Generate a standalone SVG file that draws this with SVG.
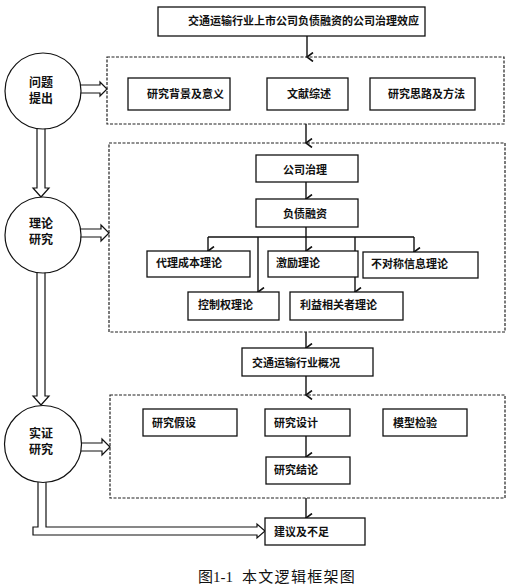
<svg xmlns="http://www.w3.org/2000/svg" width="514" height="585" viewBox="0 0 514 585">
<style>
.box{fill:#fff;stroke:#111;stroke-width:1.3}
.dash{fill:none;stroke:#222;stroke-width:1.2;stroke-dasharray:3,1.5}
.circ{fill:#fff;stroke:#111;stroke-width:1.2}
.t{font-family:"Noto Sans CJK SC","Liberation Sans",sans-serif;font-size:11px;font-weight:bold;fill:#111}
.ct{font-family:"Noto Sans CJK SC","Liberation Sans",sans-serif;font-size:12px;font-weight:bold;fill:#111;text-anchor:middle}
.ln{fill:none;stroke:#111;stroke-width:1.4}
.hol{fill:#fff;stroke:#111;stroke-width:1.2;stroke-linejoin:miter}
.cap{font-family:"Liberation Serif","Noto Sans CJK SC",serif;font-size:15px;fill:#111}
</style>
<defs>
<marker id="ah" viewBox="0 0 10 10" refX="5" refY="9" markerWidth="10" markerHeight="10" markerUnits="userSpaceOnUse" orient="auto-start-reverse">
<path d="M0.5,3 L5,9 L9.5,3" fill="none" stroke="#111" stroke-width="1.6"/>
</marker>
</defs>

<g id="connectors">
<line class="ln" x1="307" y1="36" x2="307" y2="57" marker-end="url(#ah)"/>
<line class="ln" x1="306" y1="124" x2="306" y2="143" marker-end="url(#ah)"/>
<line class="ln" x1="306" y1="182" x2="306" y2="199" marker-end="url(#ah)"/>
<line class="ln" x1="306" y1="227" x2="306" y2="237"/>
<line class="ln" x1="208" y1="237" x2="414" y2="237"/>
<line class="ln" x1="208" y1="237" x2="208" y2="251" marker-end="url(#ah)"/>
<line class="ln" x1="306" y1="237" x2="306" y2="251" marker-end="url(#ah)"/>
<line class="ln" x1="414" y1="237" x2="414" y2="252" marker-end="url(#ah)"/>
<line class="ln" x1="258" y1="237" x2="258" y2="292" marker-end="url(#ah)"/>
<line class="ln" x1="355" y1="237" x2="355" y2="292" marker-end="url(#ah)"/>
<line class="ln" x1="306" y1="332" x2="306" y2="348" marker-end="url(#ah)"/>
<line class="ln" x1="306" y1="376" x2="306" y2="395" marker-end="url(#ah)"/>
<line class="ln" x1="306" y1="436" x2="306" y2="457" marker-end="url(#ah)"/>
<line class="ln" x1="306" y1="498" x2="306" y2="518" marker-end="url(#ah)"/>
<polygon class="hol" points="37,120 37,188 33,188 41,197 49,188 45,188 45,120"/>
<polygon class="hol" points="37,265 37,396 33,396 41,405 49,396 45,396 45,265"/>
<polygon class="hol" points="38,475 38,527 33,527 33,535 257,535 257,538 265,531 257,524 257,527 46,527 46,475"/>
<polygon class="hol" points="75,85 100,85 100,82 107,89 100,96 100,93 75,93"/>
<polygon class="hol" points="75,229 101,229 101,225 109,233 101,241 101,237 75,237"/>
<polygon class="hol" points="75,443 102,443 102,439 110,447 102,455 102,451 75,451"/>
</g>

<g id="title"><rect class="box" x="158" y="7" width="267" height="29"/><text class="t" x="188" y="25">交通运输行业上市公司负债融资的公司治理效应</text></g>

<g id="stage1"><rect class="dash" x="107" y="57" width="397" height="67"/></g>
<g id="bg"><rect class="box" x="128" y="78" width="102" height="32"/><text class="t" x="147" y="98">研究背景及意义</text></g>
<g id="lit"><rect class="box" x="267" y="78" width="81" height="32"/><text class="t" x="287" y="98">文献综述</text></g>
<g id="method"><rect class="box" x="370" y="78" width="105" height="32"/><text class="t" x="388" y="98">研究思路及方法</text></g>

<g id="stage2"><rect class="dash" x="109" y="143" width="396" height="189"/></g>
<g id="cg"><rect class="box" x="256" y="155" width="102" height="27"/><text class="t" x="283" y="174">公司治理</text></g>
<g id="debt"><rect class="box" x="256" y="199" width="102" height="28"/><text class="t" x="283" y="218">负债融资</text></g>
<g id="agency"><rect class="box" x="147" y="251" width="103" height="26"/><text class="t" x="156" y="267">代理成本理论</text></g>
<g id="incentive"><rect class="box" x="268" y="251" width="90" height="26"/><text class="t" x="276" y="267">激励理论</text></g>
<g id="asym"><rect class="box" x="363" y="252" width="115" height="26"/><text class="t" x="371" y="268">不对称信息理论</text></g>
<g id="control"><rect class="box" x="188" y="292" width="91" height="28"/><text class="t" x="198" y="309">控制权理论</text></g>
<g id="stake"><rect class="box" x="290" y="292" width="113" height="28"/><text class="t" x="300" y="309">利益相关者理论</text></g>

<g id="industry"><rect class="box" x="242" y="348" width="131" height="28"/><text class="t" x="252" y="367">交通运输行业概况</text></g>

<g id="stage3"><rect class="dash" x="110" y="395" width="395" height="103"/></g>
<g id="hyp"><rect class="box" x="143" y="409" width="94" height="27"/><text class="t" x="152" y="427">研究假设</text></g>
<g id="design"><rect class="box" x="265" y="409" width="85" height="27"/><text class="t" x="274" y="427">研究设计</text></g>
<g id="test"><rect class="box" x="383" y="409" width="84" height="27"/><text class="t" x="393" y="427">模型检验</text></g>
<g id="concl"><rect class="box" x="266" y="457" width="84" height="27"/><text class="t" x="274" y="474">研究结论</text></g>
<g id="suggest"><rect class="box" x="265" y="518" width="100" height="27"/><text class="t" x="274" y="536">建议及不足</text></g>

<g id="c1"><circle class="circ" cx="43" cy="91" r="38"/><text class="ct" x="41" y="87">问题</text><text class="ct" x="41" y="103">提出</text></g>
<g id="c2"><circle class="circ" cx="43" cy="235" r="38"/><text class="ct" x="41" y="228">理论</text><text class="ct" x="41" y="244">研究</text></g>
<g id="c3"><circle class="circ" cx="43" cy="444" r="38.5"/><text class="ct" x="41" y="438">实证</text><text class="ct" x="41" y="454">研究</text></g>

<text class="cap" x="198" y="582">图1-1<tspan x="242" letter-spacing="1.3">本文逻辑框架图</tspan></text>
</svg>
